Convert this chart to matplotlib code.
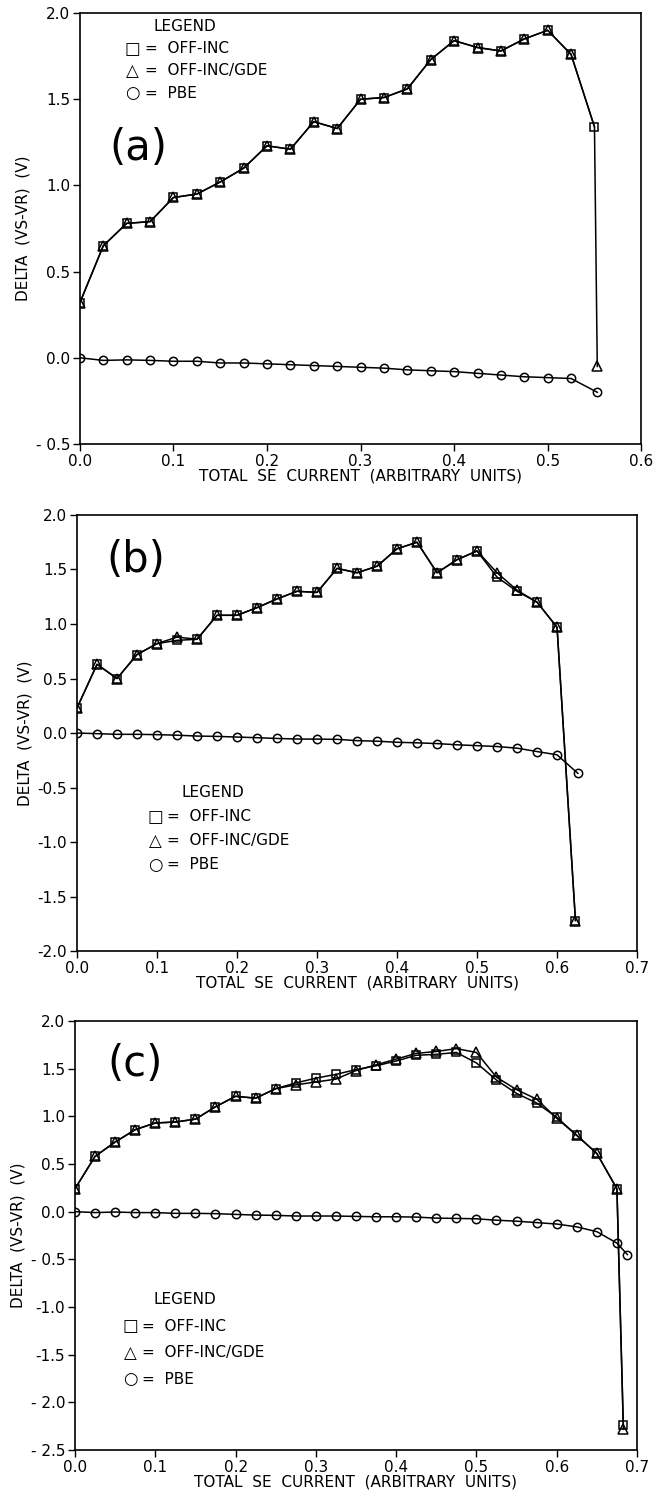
import matplotlib
matplotlib.use("Agg")
import matplotlib.pyplot as plt

# Datos (x en unidades arbitrarias, y en V)

# Panel (a)
x_a = [0.0, 0.025, 0.05, 0.075, 0.1, 0.125, 0.15, 0.175, 0.2, 0.225, 0.25, 0.275,
       0.3, 0.325, 0.35, 0.375, 0.4, 0.425, 0.45, 0.475, 0.5, 0.525, 0.55]
offinc_a = [0.32, 0.65, 0.78, 0.79, 0.93, 0.95, 1.02, 1.10, 1.23, 1.21, 1.37, 1.33,
            1.50, 1.51, 1.56, 1.73, 1.84, 1.80, 1.78, 1.85, 1.90, 1.76, 1.34]
# la curva GDE pasa por el ultimo cuadrado y cae hasta su triangulo final
x_gde_a = x_a + [0.553]
gde_a = offinc_a + [-0.05]
gde_a_marcas = list(range(len(x_a) - 1)) + [len(x_a)]
x_pbe_a = x_a[:-1] + [0.553]
pbe_a = [0.0, -0.015, -0.012, -0.015, -0.02, -0.02, -0.03, -0.03, -0.035, -0.04,
         -0.045, -0.05, -0.055, -0.06, -0.07, -0.075, -0.08, -0.09, -0.10, -0.11,
         -0.115, -0.12, -0.20]

# Panel (b)
x_b = [0.0, 0.025, 0.05, 0.075, 0.1, 0.125, 0.15, 0.175, 0.2, 0.225, 0.25, 0.275,
       0.3, 0.325, 0.35, 0.375, 0.4, 0.425, 0.45, 0.475, 0.5, 0.525, 0.55, 0.575,
       0.6, 0.623]
offinc_b = [0.23, 0.63, 0.50, 0.72, 0.82, 0.85, 0.86, 1.08, 1.08, 1.15, 1.23, 1.30,
            1.29, 1.51, 1.47, 1.53, 1.69, 1.75, 1.47, 1.59, 1.67, 1.43, 1.30, 1.20,
            0.97, -1.72]
gde_b = [0.23, 0.63, 0.50, 0.72, 0.82, 0.88, 0.86, 1.08, 1.08, 1.15, 1.23, 1.30,
         1.29, 1.51, 1.47, 1.53, 1.69, 1.75, 1.47, 1.59, 1.67, 1.47, 1.31, 1.20,
         0.97, -1.72]
x_pbe_b = x_b[:-1] + [0.626]
pbe_b = [0.0, -0.006, -0.012, -0.012, -0.015, -0.02, -0.028, -0.031, -0.037, -0.043,
         -0.05, -0.055, -0.056, -0.058, -0.07, -0.075, -0.085, -0.09, -0.097, -0.108,
         -0.116, -0.124, -0.139, -0.17, -0.20, -0.37]

# Panel (c)
x_c = [0.0, 0.025, 0.05, 0.075, 0.1, 0.125, 0.15, 0.175, 0.2, 0.225, 0.25, 0.275,
       0.3, 0.325, 0.35, 0.375, 0.4, 0.425, 0.45, 0.475, 0.5, 0.525, 0.55, 0.575,
       0.6, 0.625, 0.65, 0.675, 0.683]
offinc_c = [0.24, 0.58, 0.73, 0.86, 0.93, 0.94, 0.97, 1.10, 1.21, 1.19, 1.29, 1.35,
            1.40, 1.44, 1.49, 1.53, 1.58, 1.64, 1.65, 1.67, 1.56, 1.38, 1.24, 1.14,
            0.99, 0.80, 0.61, 0.24, -2.24]
gde_c = [0.24, 0.58, 0.73, 0.86, 0.93, 0.94, 0.97, 1.10, 1.21, 1.19, 1.29, 1.33,
         1.36, 1.39, 1.48, 1.54, 1.60, 1.66, 1.68, 1.71, 1.67, 1.41, 1.28, 1.18,
         0.98, 0.80, 0.61, 0.24, -2.28]
x_pbe_c = x_c[:-1] + [0.688]
pbe_c = [0.0, -0.01, -0.004, -0.01, -0.01, -0.018, -0.018, -0.021, -0.029, -0.036,
         -0.039, -0.046, -0.046, -0.046, -0.05, -0.054, -0.054, -0.057, -0.068, -0.071,
         -0.075, -0.09, -0.10, -0.115, -0.13, -0.16, -0.21, -0.33, -0.45]

paneles = [
    dict(tag="(a)", x=x_a, off=offinc_a, xg=x_gde_a, gde=gde_a, gmark=gde_a_marcas,
         xp=x_pbe_a, pbe=pbe_a,
         xlim=(0, 0.6), ylim=(-0.5, 2.0),
         yticks=[2.0, 1.5, 1.0, 0.5, 0.0, -0.5],
         ylabels=["2.0", "1.5", "1.0", "0.5", "0.0", "- 0.5"],
         xticks=[0, 0.1, 0.2, 0.3, 0.4, 0.5, 0.6],
         pos=[0.122, 0.7042, 0.857, 0.2871],
         tag_xy=(0.062, 1.22), leg_xy=(0.079, 1.92), leg_dy=0.128, leg_mx=0.056),
    dict(tag="(b)", x=x_b, off=offinc_b, xg=x_b, gde=gde_b, gmark=None,
         xp=x_pbe_b, pbe=pbe_b,
         xlim=(0, 0.7), ylim=(-2.0, 2.0),
         yticks=[2.0, 1.5, 1.0, 0.5, 0.0, -0.5, -1.0, -1.5, -2.0],
         ylabels=["2.0", "1.5", "1.0", "0.5", "0.0", "-0.5", "-1.0", "-1.5", "-2.0"],
         xticks=[0, 0.1, 0.2, 0.3, 0.4, 0.5, 0.6, 0.7],
         pos=[0.1176, 0.3664, 0.855, 0.2905],
         tag_xy=(0.073, 1.59), leg_xy=(0.13, -0.55), leg_dy=0.22, leg_mx=0.098),
    dict(tag="(c)", x=x_c, off=offinc_c, xg=x_c, gde=gde_c, gmark=None,
         xp=x_pbe_c, pbe=pbe_c,
         xlim=(0, 0.7), ylim=(-2.5, 2.0),
         yticks=[2.0, 1.5, 1.0, 0.5, 0.0, -0.5, -1.0, -1.5, -2.0, -2.5],
         ylabels=["2.0", "1.5", "1.0", "0.5", "0.0", "- 0.5", "-1.0", "-1.5", "- 2.0", "- 2.5"],
         xticks=[0, 0.1, 0.2, 0.3, 0.4, 0.5, 0.6, 0.7],
         pos=[0.1145, 0.034, 0.858, 0.2858],
         tag_xy=(0.075, 1.55), leg_xy=(0.098, -0.92), leg_dy=0.28, leg_mx=0.069),
]

fuente = ["Liberation Sans Narrow", "DejaVu Sans"]
plt.rcParams["font.family"] = fuente

fig = plt.figure(figsize=(6.55, 15.01), dpi=100)

for p in paneles:
    ax = fig.add_axes(p["pos"])
    estilo = dict(color="black", linewidth=1.1, markerfacecolor="none",
                  markeredgecolor="black", markeredgewidth=1.1)
    # OFF-INC (cuadrados)
    ax.plot(p["x"], p["off"], marker="s", markersize=6, **estilo)
    # OFF-INC/GDE (triangulos)
    ax.plot(p["xg"], p["gde"], marker="^", markersize=7, markevery=p["gmark"], **estilo)
    # PBE (circulos)
    ax.plot(p["xp"], p["pbe"], marker="o", markersize=6, **estilo)

    ax.set_xlim(*p["xlim"])
    ax.set_ylim(*p["ylim"])
    ax.set_xticks(p["xticks"])
    ax.set_xticklabels(["%.1f" % t for t in p["xticks"]])
    ax.set_yticks(p["yticks"])
    ax.set_yticklabels(p["ylabels"])
    ax.tick_params(direction="out", length=5, width=1, labelsize=11, pad=2)
    for s in ax.spines.values():
        s.set_linewidth(1.2)

    ax.set_xlabel("TOTAL  SE  CURRENT  (ARBITRARY  UNITS)", fontsize=11, labelpad=0)
    ax.set_ylabel("DELTA  (VS-VR)  (V)", fontsize=11, labelpad=4)

    # Etiqueta del panel
    ax.text(p["tag_xy"][0], p["tag_xy"][1], p["tag"], fontsize=30,
            ha="center", va="center", family=["DejaVu Sans"])

    # Leyenda escrita a mano como en el original
    lx, ly = p["leg_xy"]
    dy = p["leg_dy"]
    ax.text(lx, ly, "LEGEND", fontsize=11, ha="left", va="center")
    simbolos = ["\u25a1", "\u25b3", "\u25cb"]
    nombres = ["OFF-INC", "OFF-INC/GDE", "PBE"]
    for i, (sim, nom) in enumerate(zip(simbolos, nombres)):
        yy = ly - dy * (i + 1)
        ax.text(p["leg_mx"], yy, sim, fontsize=12, ha="center", va="center",
                family=["DejaVu Sans"])
        ax.text(p["leg_mx"] + 0.014, yy, "=  " + nom, fontsize=11,
                ha="left", va="center")

fig.savefig("out.png", dpi=100)
